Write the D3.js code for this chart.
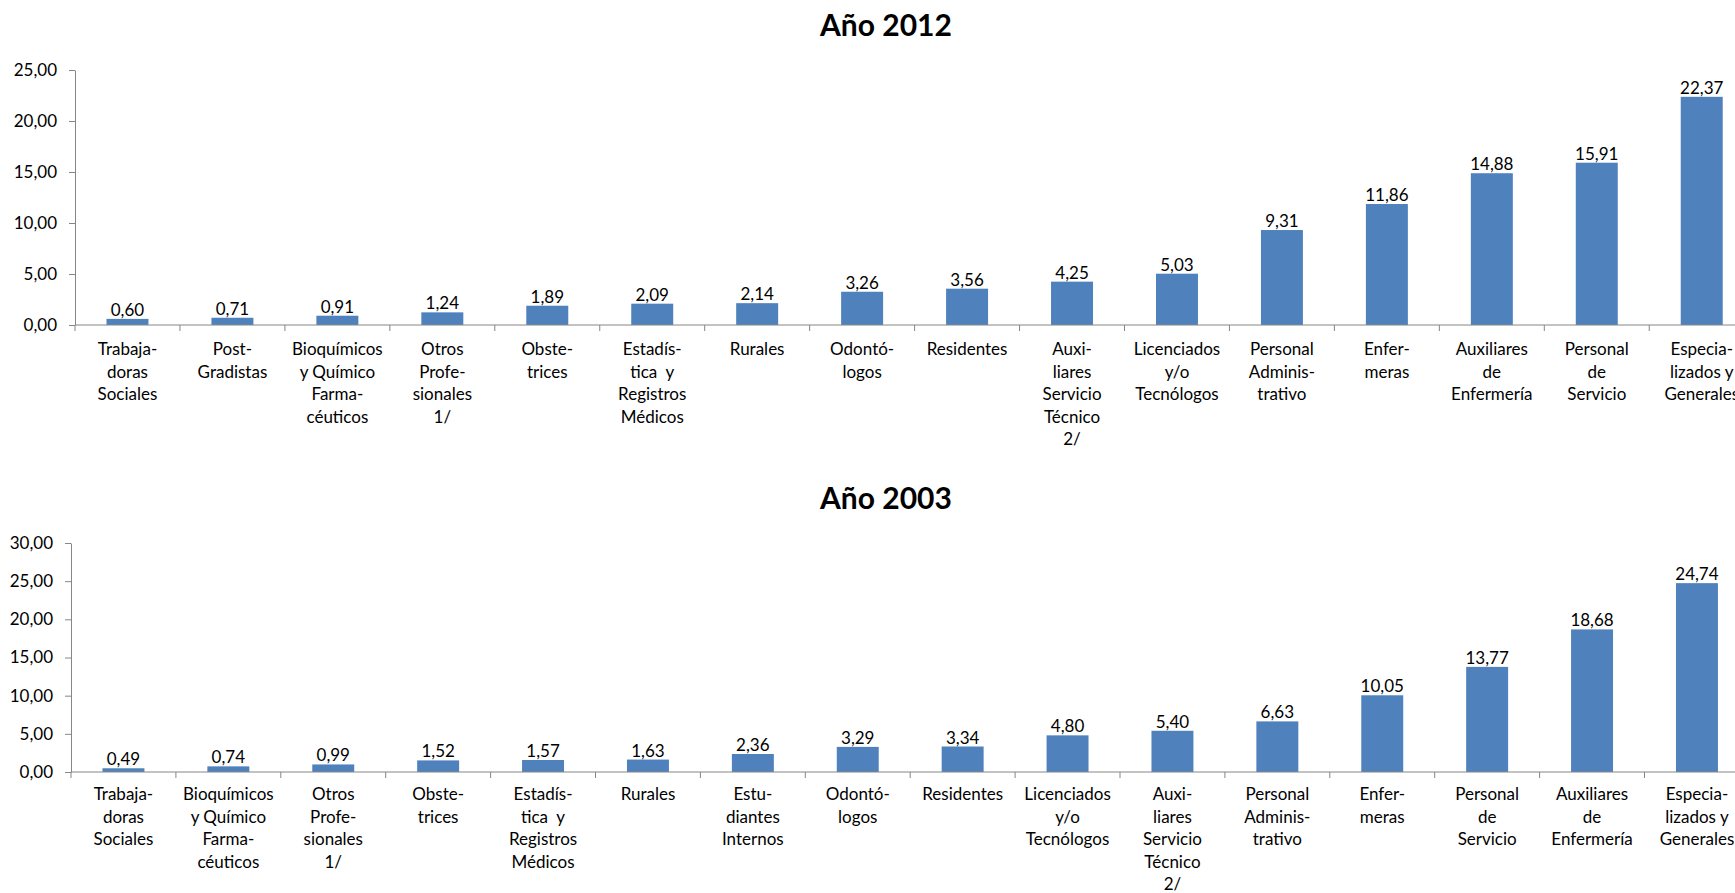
<!DOCTYPE html>
<html>
<head>
<meta charset="utf-8">
<script src="https://d3js.org/d3.v7.min.js"></script>
<style>
  html, body { margin: 0; padding: 0; background: #fff; }
  svg text { font-family: Lato, "Open Sans", sans-serif; fill: #000; }
</style>
</head>
<body>
<div id="chart"></div>
<script>
// categories, "|" marks a line break in the axis label
const categories2012 = [
  "Trabaja-|doras|Sociales", "Post-|Gradistas", "Bioquímicos|y Químico|Farma-|céuticos",
  "Otros|Profe-|sionales|1/", "Obste-|trices", "Estadís-|tica  y|Registros|Médicos",
  "Rurales", "Odontó-|logos", "Residentes", "Auxi-|liares|Servicio|Técnico|2/",
  "Licenciados|y/o|Tecnólogos", "Personal|Adminis-|trativo", "Enfer-|meras",
  "Auxiliares|de|Enfermería", "Personal|de|Servicio", "Especia-|lizados y|Generales"
];
const values2012 = [0.60, 0.71, 0.91, 1.24, 1.89, 2.09, 2.14, 3.26, 3.56, 4.25, 5.03, 9.31, 11.86, 14.88, 15.91, 22.37];
const yTicks2012 = [0, 5, 10, 15, 20, 25];

const categories2003 = [
  "Trabaja-|doras|Sociales", "Bioquímicos|y Químico|Farma-|céuticos", "Otros|Profe-|sionales|1/",
  "Obste-|trices", "Estadís-|tica  y|Registros|Médicos", "Rurales", "Estu-|diantes|Internos",
  "Odontó-|logos", "Residentes", "Licenciados|y/o|Tecnólogos", "Auxi-|liares|Servicio|Técnico|2/",
  "Personal|Adminis-|trativo", "Enfer-|meras", "Personal|de|Servicio",
  "Auxiliares|de|Enfermería", "Especia-|lizados y|Generales"
];
const values2003 = [0.49, 0.74, 0.99, 1.52, 1.57, 1.63, 2.36, 3.29, 3.34, 4.80, 5.40, 6.63, 10.05, 13.77, 18.68, 24.74];
const yTicks2003 = [0, 5, 10, 15, 20, 25, 30];

const width = 1735;
const height = 893;
const barColor = "#4F81BD";
const axisColor = "#868686";
const fmt = (v) => d3.format(".2f")(v).replace(".", ",");

const svg = d3
  .select("#chart")
  .append("svg")
  .attr("width", width)
  .attr("height", height);

function drawChart(opts) {
  const { title, cats, vals, ticks, left, top, bottom, step, titleY, labelOffset } = opts;

  const x = d3
    .scaleBand()
    .domain(cats)
    .range([left, left + step * cats.length])
    .padding(0);
  const y = d3
    .scaleLinear()
    .domain([0, d3.max(ticks)])
    .range([bottom, top]);

  const g = svg.append("g");

  // title
  g.append("text")
    .attr("x", 886)
    .attr("y", titleY)
    .attr("text-anchor", "middle")
    .style("font-size", "30px")
    .style("font-weight", "bold")
    .text(title);

  // bars
  const barW = x.bandwidth() * 0.4;
  g.selectAll("rect")
    .data(vals)
    .enter()
    .append("rect")
    .attr("x", (d, i) => x(cats[i]) + (x.bandwidth() - barW) / 2)
    .attr("y", (d) => y(d))
    .attr("width", barW)
    .attr("height", (d) => y(0) - y(d))
    .attr("fill", barColor);

  // y axis
  const yAxis = g
    .append("g")
    .attr("transform", `translate(${left},0)`)
    .call(d3.axisLeft(y).tickValues(ticks).tickFormat(fmt).tickSize(6).tickSizeOuter(0).tickPadding(12));
  yAxis.select(".domain").attr("stroke", axisColor);
  yAxis.selectAll(".tick line").attr("stroke", axisColor);
  yAxis.selectAll(".tick text").style("font-size", "17px").attr("fill", "#000");

  // x axis: line plus ticks between categories
  const xAxis = g.append("g");
  xAxis
    .append("line")
    .attr("x1", left)
    .attr("x2", left + step * cats.length)
    .attr("y1", y(0))
    .attr("y2", y(0))
    .attr("stroke", axisColor);
  xAxis
    .selectAll(".xtick")
    .data(d3.range(cats.length + 1))
    .enter()
    .append("line")
    .attr("x1", (i) => left + i * step)
    .attr("x2", (i) => left + i * step)
    .attr("y1", y(0))
    .attr("y2", y(0) + 6)
    .attr("stroke", axisColor);

  // category labels
  xAxis
    .selectAll(".cat")
    .data(cats)
    .enter()
    .append("text")
    .attr("text-anchor", "middle")
    .style("font-size", "17px")
    .style("white-space", "pre")
    .each(function (d) {
      const t = d3.select(this);
      d.split("|").forEach((line, k) => {
        t.append("tspan")
          .attr("x", x(d) + x.bandwidth() / 2)
          .attr("y", y(0) + labelOffset + k * 22.5)
          .text(line);
      });
    });

  // value labels
  g.selectAll(".val")
    .data(vals)
    .enter()
    .append("text")
    .attr("x", (d, i) => x(cats[i]) + x.bandwidth() / 2)
    .attr("y", (d) => y(d) - 3)
    .attr("text-anchor", "middle")
    .style("font-size", "17px")
    .text(fmt);
}

drawChart({
  title: "Año 2012",
  cats: categories2012,
  vals: values2012,
  ticks: yTicks2012,
  left: 75,
  top: 70,
  bottom: 325,
  step: 104.95,
  titleY: 36,
  labelOffset: 30
});

drawChart({
  title: "Año 2003",
  cats: categories2003,
  vals: values2003,
  ticks: yTicks2003,
  left: 71,
  top: 543,
  bottom: 772,
  step: 104.9,
  titleY: 509,
  labelOffset: 28
});
</script>
</body>
</html>
